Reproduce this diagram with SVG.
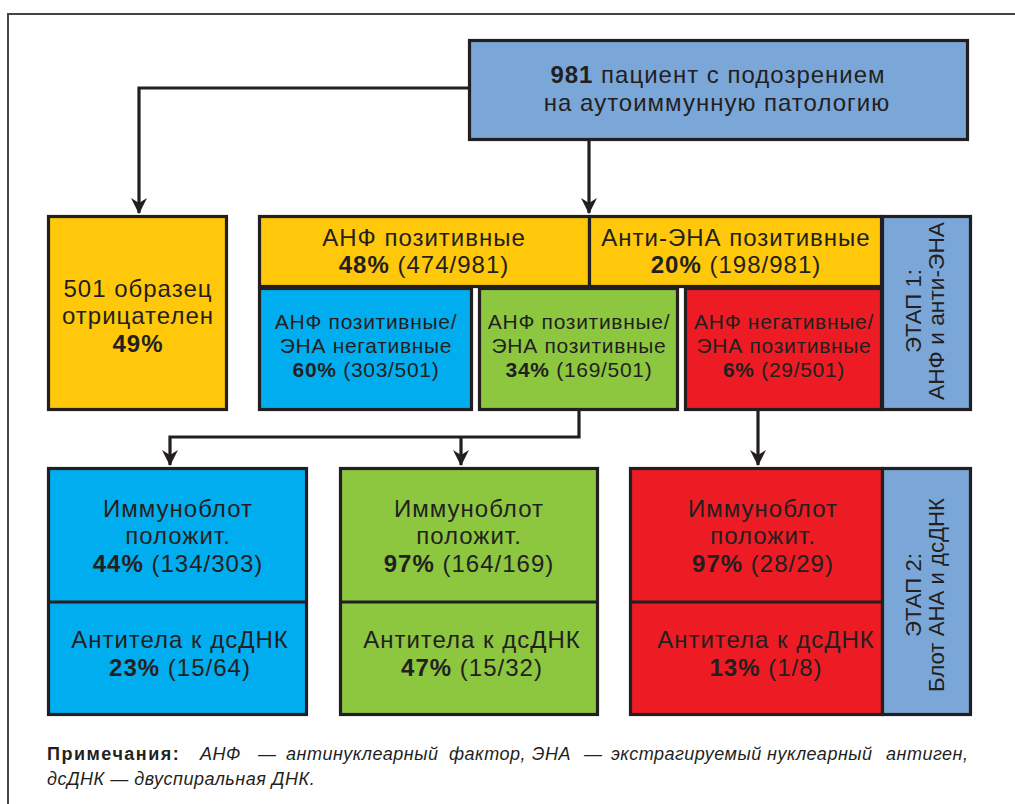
<svg xmlns="http://www.w3.org/2000/svg" width="1015" height="804" viewBox="0 0 1015 804">
<defs>
<style>
.b{stroke:#231f20;stroke-width:3.2}
.y{fill:#ffc80b}.c{fill:#00aeef}.g{fill:#8dc63f}.r{fill:#ed1c24}.lb{fill:#7ba7d8}
text{font-family:"Liberation Sans","Arial",sans-serif;fill:#231f20;text-anchor:middle}
.t22{font-size:24px;letter-spacing:1px}.t20{font-size:21px;letter-spacing:0.7px}.t18{font-size:22px}
.bd{font-weight:bold}
.ln{fill:none;stroke:#231f20;stroke-width:3.2}
.note{font-size:18px;text-anchor:start;font-style:italic;letter-spacing:0.5px}
</style>
<marker id="ah" markerUnits="userSpaceOnUse" viewBox="0 0 16 16" markerWidth="16" markerHeight="16" refX="15" refY="8" orient="auto">
<path d="M0,0 L16,8 L0,16 L5,8 Z" fill="#231f20"/>
</marker>
</defs>
<rect x="0" y="0" width="1015" height="804" fill="#fff"/>
<rect x="8" y="14" width="1030" height="820" fill="none" stroke="#444" stroke-width="2"/>

<g id="connectors">
<path class="ln" d="M468,88 H139 V213" marker-end="url(#ah)"/>
<path class="ln" d="M589,141 V213" marker-end="url(#ah)"/>
<path class="ln" d="M579,411 V437 H170 V465" marker-end="url(#ah)"/>
<path class="ln" d="M461,437 V465" marker-end="url(#ah)"/>
<path class="ln" d="M758,411 V465" marker-end="url(#ah)"/>
</g>

<g id="top">
<rect class="b lb" x="469.5" y="40.5" width="498" height="99"/>
<text class="t22" x="718" y="83"><tspan class="bd">981</tspan> пациент с подозрением</text>
<text class="t22" x="717" y="111">на аутоиммунную патологию</text>
</g>

<g id="negative">
<rect class="b y" x="48.5" y="216.5" width="178" height="193"/>
<text class="t22" x="138" y="297">501 образец</text>
<text class="t22" x="138" y="324">отрицателен</text>
<text class="t22 bd" x="138" y="352">49%</text>
</g>

<g id="anf-pos">
<rect class="b y" x="259.5" y="216.5" width="330" height="70"/>
<text class="t22" x="424" y="246">АНФ позитивные</text>
<text class="t22" x="424" y="273"><tspan class="bd">48%</tspan> (474/981)</text>
</g>

<g id="ena-pos">
<rect class="b y" x="589.5" y="216.5" width="292" height="70"/>
<text class="t22" x="736" y="246">Анти-ЭНА позитивные</text>
<text class="t22" x="736" y="273"><tspan class="bd">20%</tspan> (198/981)</text>
</g>

<g id="anf-pos-ena-neg">
<rect class="b c" x="259.5" y="288.5" width="212" height="121"/>
<text class="t20" x="366" y="329">АНФ позитивные/</text>
<text class="t20" x="366" y="353">ЭНА негативные</text>
<text class="t20" x="366" y="377"><tspan class="bd">60%</tspan> (303/501)</text>
</g>

<g id="anf-pos-ena-pos">
<rect class="b g" x="479.5" y="288.5" width="198" height="121"/>
<text class="t20" x="579" y="329">АНФ позитивные/</text>
<text class="t20" x="579" y="353">ЭНА позитивные</text>
<text class="t20" x="579" y="377"><tspan class="bd">34%</tspan> (169/501)</text>
</g>

<g id="anf-neg-ena-pos">
<rect class="b r" x="685.5" y="288.5" width="196" height="121"/>
<text class="t20" x="784" y="329">АНФ негативные/</text>
<text class="t20" x="784" y="353">ЭНА позитивные</text>
<text class="t20" x="784" y="377"><tspan class="bd">6%</tspan> (29/501)</text>
</g>

<g id="stage1">
<rect class="b lb" x="882.5" y="216.5" width="88" height="193"/>
<text class="t18" transform="translate(921,311) rotate(-90)" textLength="84" lengthAdjust="spacingAndGlyphs">ЭТАП 1:</text>
<text class="t18" transform="translate(944,311) rotate(-90)" textLength="178" lengthAdjust="spacingAndGlyphs">АНФ и анти-ЭНА</text>
</g>

<g id="blot-blue">
<rect class="b c" x="48.5" y="468.5" width="258" height="246"/>
<line class="b" x1="48" y1="602" x2="307" y2="602"/>
<text class="t22" x="178" y="517">Иммуноблот</text>
<text class="t22" x="178" y="544">положит.</text>
<text class="t22" x="178" y="572"><tspan class="bd">44%</tspan> (134/303)</text>
<text class="t22" x="180" y="648">Антитела к дсДНК</text>
<text class="t22" x="180" y="676"><tspan class="bd">23%</tspan> (15/64)</text>
</g>

<g id="blot-green">
<rect class="b g" x="340.5" y="468.5" width="257" height="246"/>
<line class="b" x1="340" y1="602" x2="598" y2="602"/>
<text class="t22" x="469" y="517">Иммуноблот</text>
<text class="t22" x="469" y="544">положит.</text>
<text class="t22" x="469" y="572"><tspan class="bd">97%</tspan> (164/169)</text>
<text class="t22" x="472" y="648">Антитела к дсДНК</text>
<text class="t22" x="472" y="676"><tspan class="bd">47%</tspan> (15/32)</text>
</g>

<g id="blot-red">
<rect class="b r" x="630.5" y="468.5" width="252" height="246"/>
<line class="b" x1="630" y1="602" x2="882" y2="602"/>
<text class="t22" x="763" y="517">Иммуноблот</text>
<text class="t22" x="763" y="544">положит.</text>
<text class="t22" x="763" y="572"><tspan class="bd">97%</tspan> (28/29)</text>
<text class="t22" x="766" y="648">Антитела к дсДНК</text>
<text class="t22" x="766" y="676"><tspan class="bd">13%</tspan> (1/8)</text>
</g>

<g id="stage2">
<rect class="b lb" x="882.5" y="468.5" width="88" height="246"/>
<text class="t18" transform="translate(921,595) rotate(-90)" textLength="84" lengthAdjust="spacingAndGlyphs">ЭТАП 2:</text>
<text class="t18" transform="translate(944,595) rotate(-90)" textLength="194" lengthAdjust="spacingAndGlyphs">Блот АНА и дсДНК</text>
</g>

<g id="notes">
<text class="note" y="760"><tspan x="47" font-weight="bold" font-style="normal" letter-spacing="1.5px">Примечания:</tspan><tspan x="200">АНФ</tspan><tspan x="258">—</tspan><tspan x="286">антинуклеарный</tspan><tspan x="449">фактор,</tspan><tspan x="532">ЭНА</tspan><tspan x="584">—</tspan><tspan x="611">экстрагируемый</tspan><tspan x="767">нуклеарный</tspan><tspan x="886">антиген,</tspan></text>
<text class="note" x="47" y="785">дсДНК — двуспиральная ДНК.</text>
</g>
</svg>
